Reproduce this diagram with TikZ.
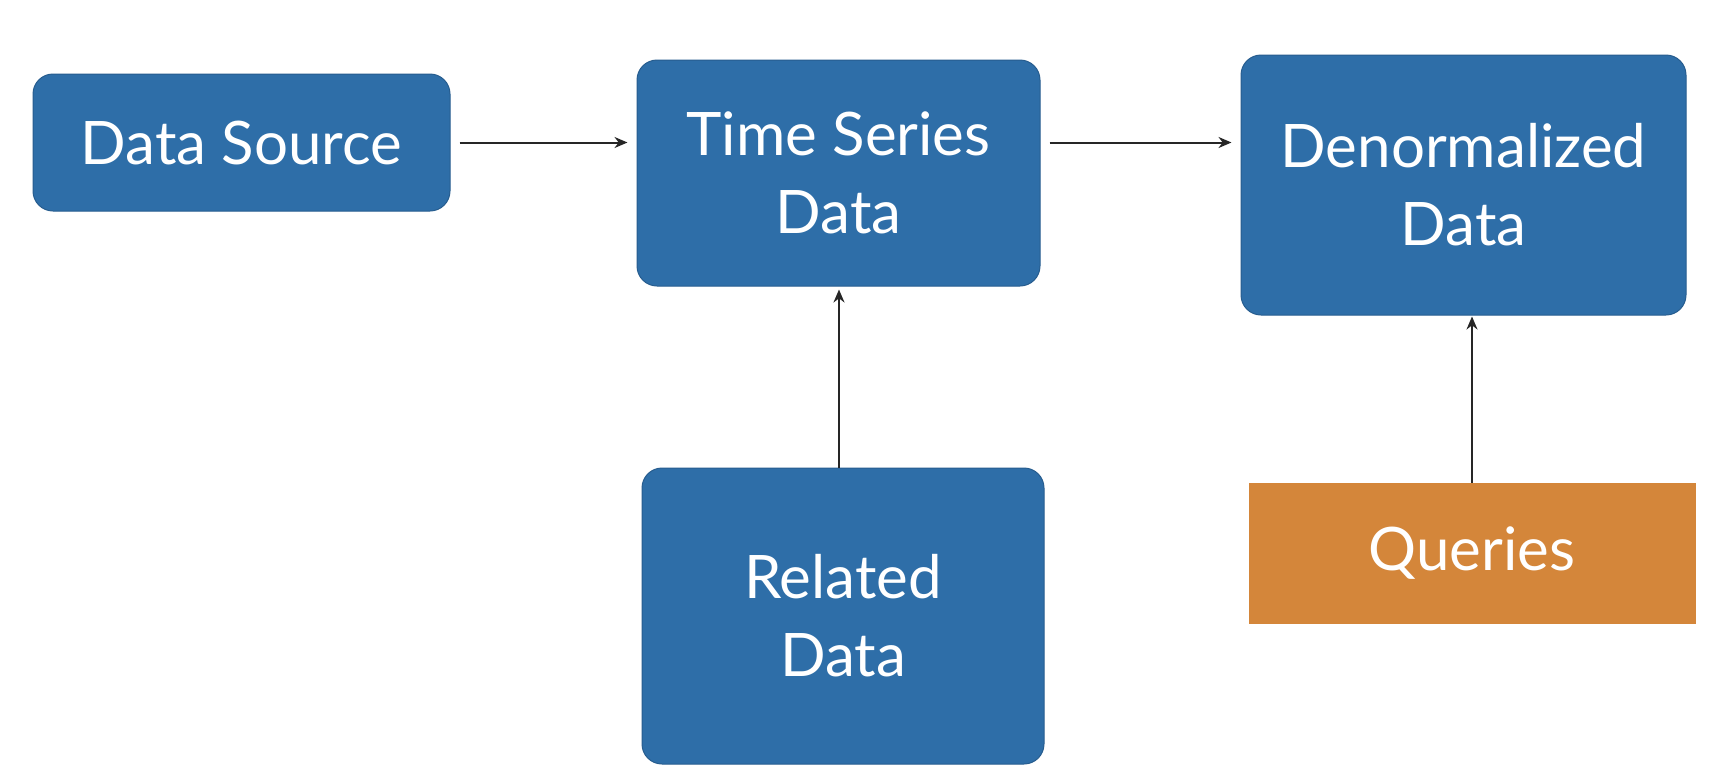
\documentclass[tikz,border=0pt]{standalone}
\usepackage{fontspec}
\setmainfont{Lato}
\usetikzlibrary{arrows.meta}
\definecolor{boxblue}{RGB}{46,110,168}
\definecolor{boxorange}{RGB}{212,134,58}
\tikzset{
  block/.style={fill=boxblue, draw=boxblue!85!black, line width=1pt,
    rounded corners=20pt, text=white, align=center, inner sep=0pt,
    font=\fontsize{60}{78}\selectfont},
  query/.style={block, fill=boxorange, draw=boxorange, rounded corners=0pt},
  flow/.style={-{Stealth[length=13pt,width=11pt]}, line width=2pt, draw=black!85}
}
\begin{document}
\begin{tikzpicture}[x=1pt,y=-1pt]
      \useasboundingbox[fill=white] (0,0) rectangle (1722,780);
      \node[block, minimum width=417pt, minimum height=137pt] (src) at (241.5,142.5) {Data Source};
      \node[block, minimum width=403pt, minimum height=226pt] (ts) at (838.5,173) {Time Series\\Data};
      \node[block, minimum width=445pt, minimum height=260pt] (dn) at (1463.5,185) {Denormalized\\Data};
      \node[block, minimum width=402pt, minimum height=296pt] (rel) at (843,616) {Related\\Data};
      \node[query, minimum width=446pt, minimum height=140pt] (q) at (1472,553) {Queries};
      \begin{scope}[flow]
        \draw[shorten <=9pt, shorten >=9pt] (src.east) -- (ts.west |- src.east);
        \draw[shorten <=9pt, shorten >=9pt] (ts.east |- src.east) -- (dn.west |- src.east);
        \draw[shorten >=3pt] (rel.north -| 839,0) -- (ts.south -| 839,0);
        \draw[shorten >=1pt] (q.north) -- (q.north |- dn.south);
      \end{scope}
    \end{tikzpicture}
\end{document}
